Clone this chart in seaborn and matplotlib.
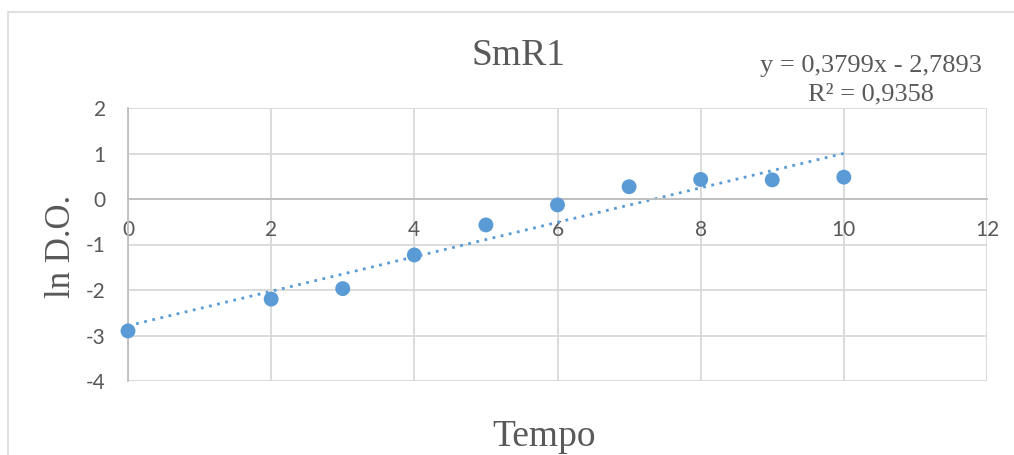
import numpy as np
import pandas as pd
import matplotlib
matplotlib.use("Agg")
import matplotlib.pyplot as plt
from matplotlib.patches import Rectangle
import seaborn as sns

# dados
tempo = [0, 2, 3, 4, 5, 6, 7, 8, 9, 10]
ln_do = [-2.90, -2.20, -1.97, -1.23, -0.57, -0.13, 0.27, 0.43, 0.42, 0.48]
x_ticks = [0, 2, 4, 6, 8, 10, 12]
y_ticks = [-4, -3, -2, -1, 0, 1, 2]
titulo = "SmR1"
equacao = "y = 0,3799x - 2,7893\nR² = 0,9358"

df = pd.DataFrame({"Tempo": tempo, "lnDO": ln_do})

sns.set_style("white")
plt.rcParams["font.family"] = ["Lato", "DejaVu Sans"]
plt.rcParams["axes.unicode_minus"] = False

azul = "#5B9BD5"
cinza_txt = "#595959"
cinza_grade = "#D9D9D9"

fig = plt.figure(figsize=(10.14, 4.55), dpi=100)
ax = fig.add_axes([128 / 1014, 1 - 381 / 455, (987 - 128) / 1014, (381 - 108) / 455])

# moldura do gráfico (estilo Excel)
fig.patches.append(Rectangle((8 / 1014, -0.1), 1.2, 1 - 12 / 455 + 0.1,
                             transform=fig.transFigure, fill=False,
                             edgecolor=cinza_grade, linewidth=1.2))

sns.regplot(data=df, x="Tempo", y="lnDO", ax=ax, scatter=False, ci=None,
            line_kws=dict(color=azul, linewidth=2, linestyle=(0, (1, 2))))
sns.scatterplot(data=df, x="Tempo", y="lnDO", ax=ax, s=115, color=azul,
                edgecolor="none", zorder=4, clip_on=False)

ax.set_xlim(0, 12)
ax.set_ylim(-4, 2)
ax.set_xticks(x_ticks)
ax.set_yticks(y_ticks)
ax.grid(True, color=cinza_grade, linewidth=1.3)
ax.set_axisbelow(True)

for lado in ["top", "right"]:
    ax.spines[lado].set_visible(False)
ax.spines["left"].set_color("#BFBFBF")
ax.spines["left"].set_linewidth(1.3)
ax.spines["bottom"].set_position(("data", 0))
ax.spines["bottom"].set_color("#BFBFBF")
ax.spines["bottom"].set_linewidth(1.3)

ax.tick_params(axis="both", length=0, labelsize=15, labelcolor=cinza_txt)
ax.tick_params(axis="x", pad=15)
ax.tick_params(axis="y", pad=16)
ax.set_xlabel("")
ax.set_ylabel("")

serif = ["Liberation Serif", "DejaVu Serif"]
fig.text(518 / 1014, 1 - 56 / 455, titulo, ha="center", va="center",
         fontsize=27, color=cinza_txt, family=serif)
fig.text(544 / 1014, 1 - 437 / 455, "Tempo", ha="center", va="center",
         fontsize=27, color=cinza_txt, family=serif)
fig.text(62 / 1014, 1 - 246 / 455, "ln D.O.",
         ha="center", va="center", rotation=90, fontsize=25,
         color=cinza_txt, family=serif)
fig.text(871 / 1014, 1 - 80 / 455, equacao, ha="center", va="center",
         fontsize=19, color=cinza_txt, family=serif, linespacing=1.35)

fig.savefig("out.png", dpi=100)
